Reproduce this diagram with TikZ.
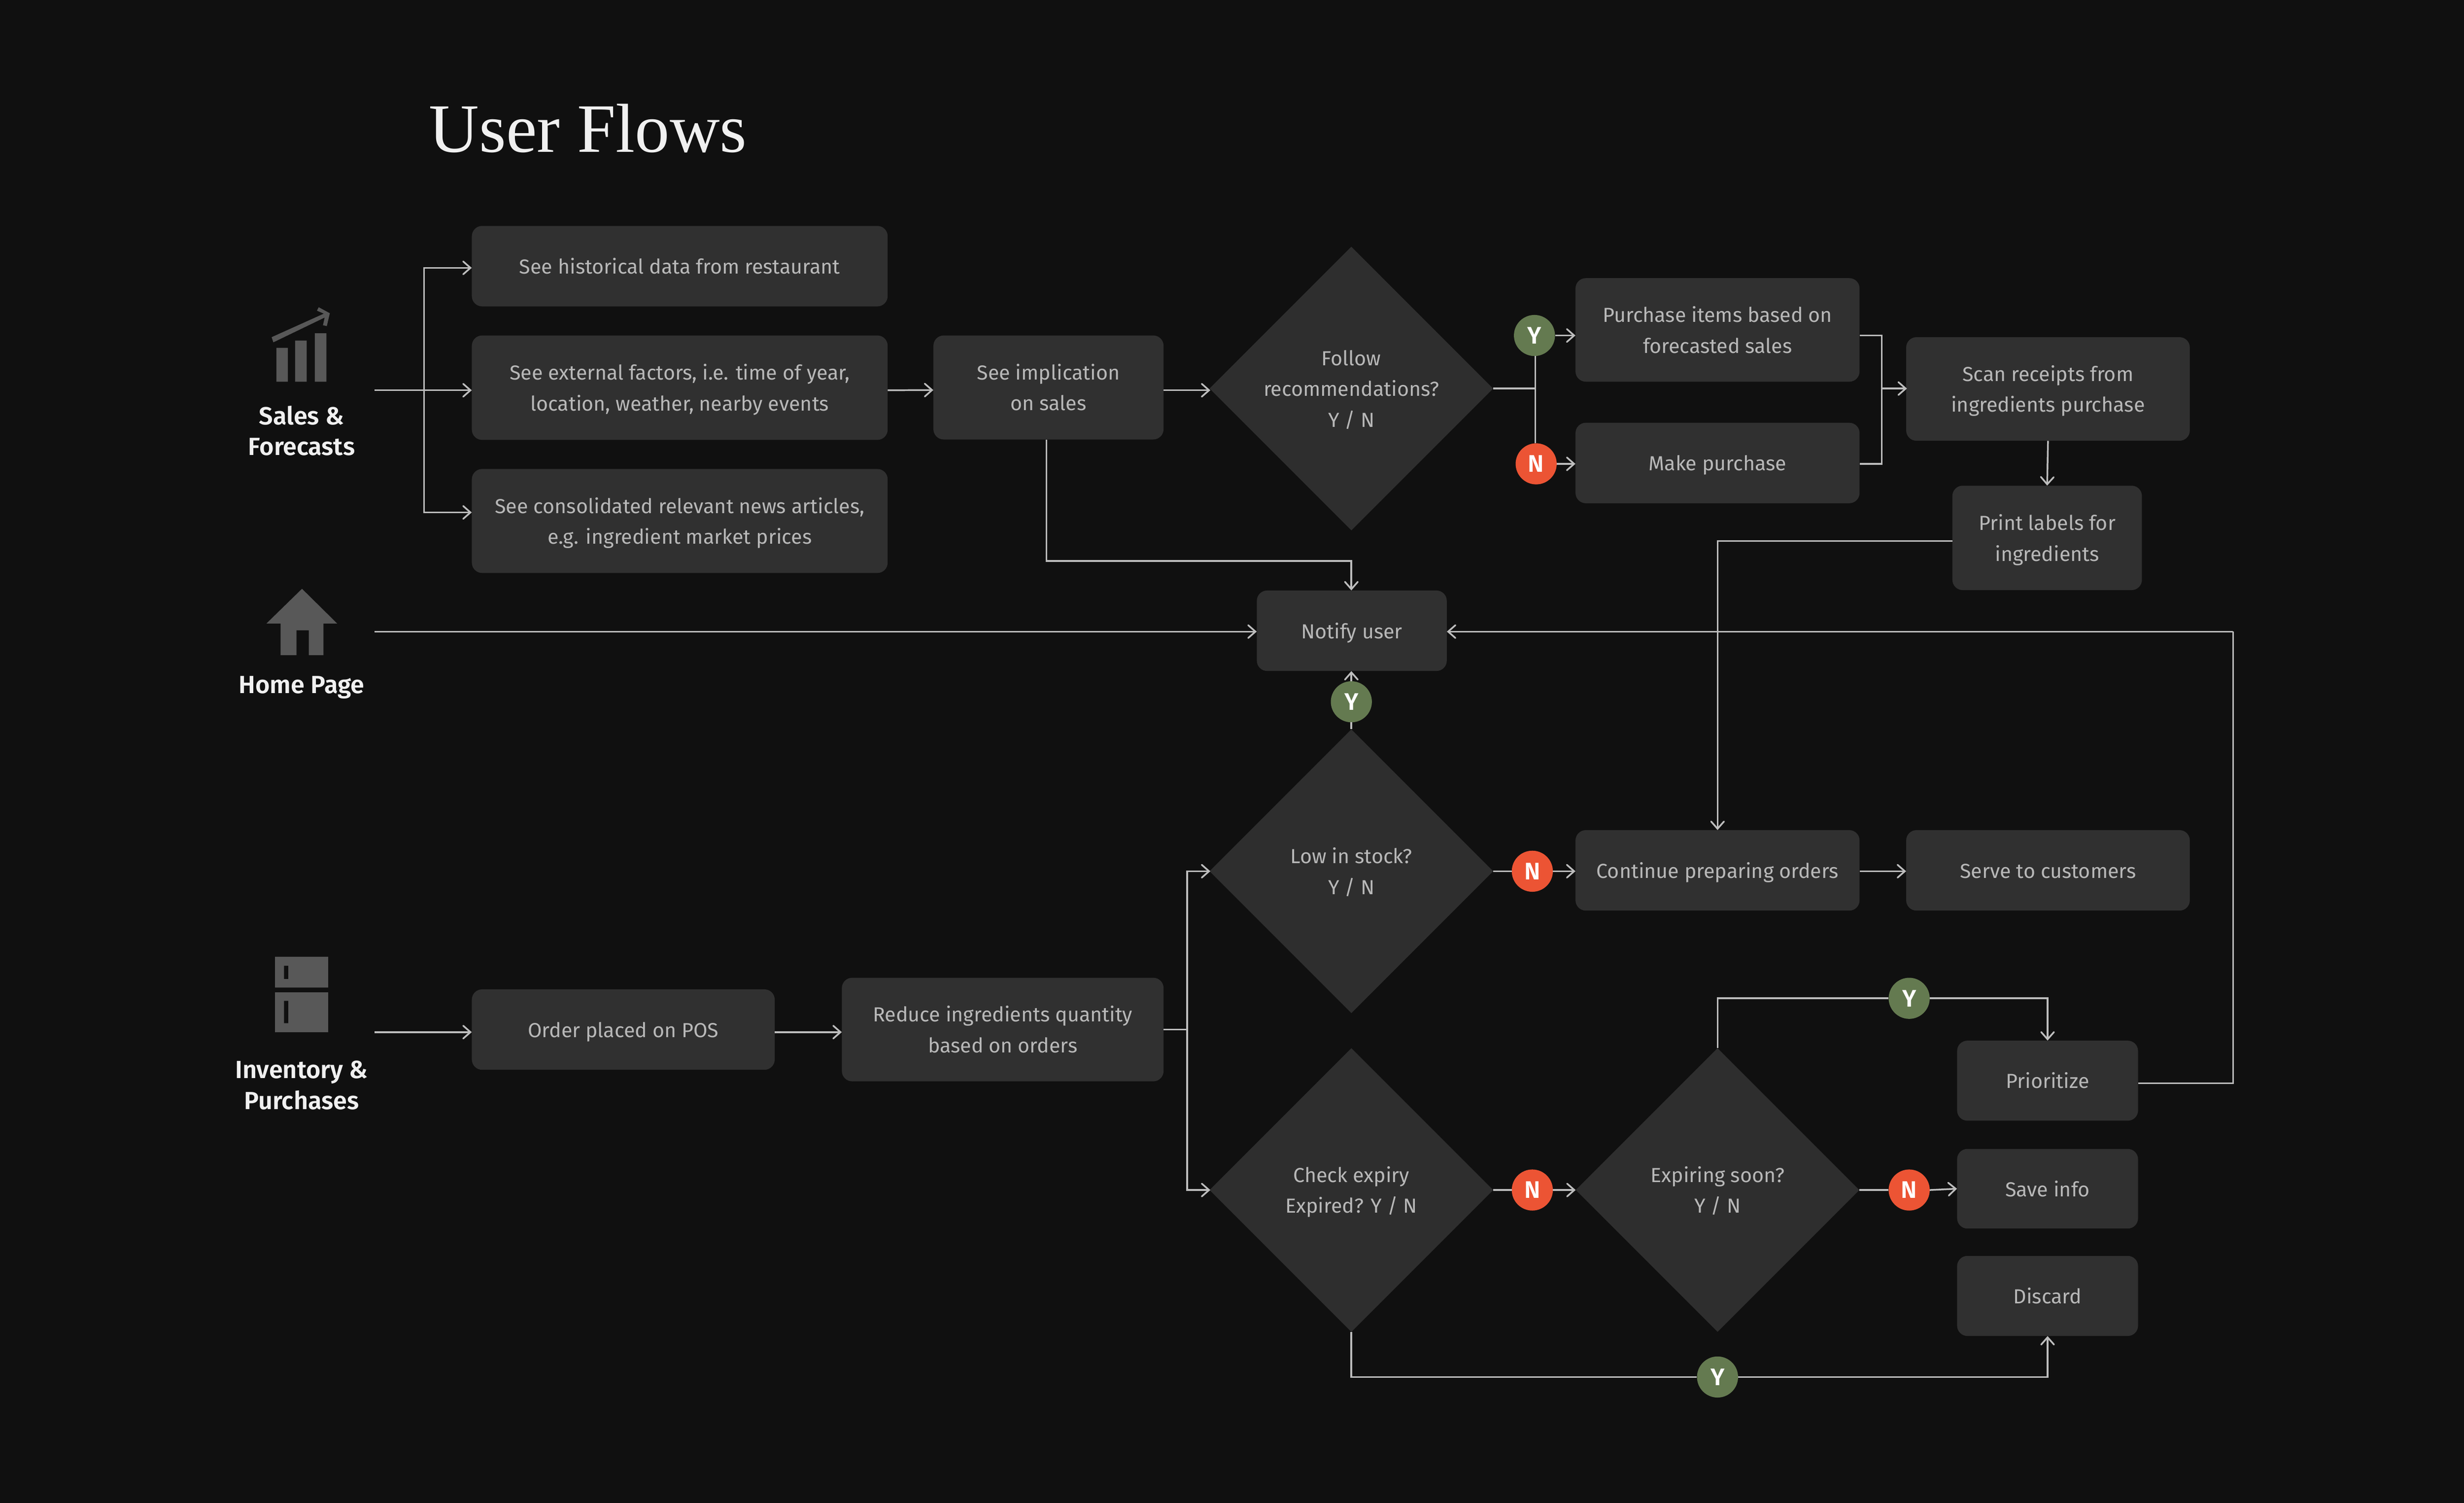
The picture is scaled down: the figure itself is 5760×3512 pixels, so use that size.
\documentclass[tikz,border=0pt]{standalone}
\usepackage{fontspec}
\setmainfont{Fira Sans}[BoldFont={Fira Sans SemiBold}]
\newfontfamily\titlefont{Liberation Serif}
\usetikzlibrary{shapes.geometric,arrows.meta,calc}
\definecolor{bgc}{HTML}{101010}
\definecolor{boxc}{HTML}{303030}
\definecolor{diac}{HTML}{2E2E2E}
\definecolor{linec}{HTML}{BDBDBD}
\definecolor{txtc}{HTML}{B8B8B8}
\definecolor{labc}{HTML}{F0F0F0}
\definecolor{iconc}{HTML}{585858}
\definecolor{yesc}{HTML}{647A50}
\definecolor{noc}{HTML}{EC5434}
\newcommand{\vstrut}{\vrule height 54pt depth 18pt width 0pt\relax}
\tikzset{
  procbox/.style={rectangle,rounded corners=24pt,fill=boxc,inner sep=0pt,text=txtc,align=center,font=\fontsize{47.5}{72}\selectfont},
  decis/.style={diamond,aspect=1,minimum width=663pt,minimum height=663pt,fill=diac,inner sep=0pt,text=txtc,align=center,font=\fontsize{47.5}{72}\selectfont},
  yes/.style={circle,minimum size=96pt,inner sep=0pt,fill=yesc,text=white,font=\fontsize{56}{56}\selectfont\bfseries},
  no/.style={circle,minimum size=96pt,inner sep=0pt,fill=noc,text=white,font=\fontsize{56}{56}\selectfont\bfseries},
  grouplabel/.style={text=labc,align=center,inner sep=0pt,font=\fontsize{58}{72}\selectfont\bfseries},
  conn/.style={draw=linec,line width=4pt},
  flow/.style={conn,-{Straight Barb[length=17pt,width=30pt,line cap=round,line width=4pt]}},
  icon/.style={fill=iconc,draw=none}
}
\begin{document}
\begin{tikzpicture}[x=1pt,y=-1pt]
\useasboundingbox (0,0) rectangle (5760,3512);
\fill[bgc] (0,0) rectangle (5760,3512);
% title
\node[anchor=base west,inner sep=0pt,text=labc,font=\fontsize{162}{162}\selectfont\titlefont] (title) at (1003,355) {User Flows};
% icons
\fill[icon] (646,813) rectangle (673,892) (690,796) rectangle (717,892) (736,779) rectangle (763,892);
\fill[icon] (635,788) -- (757,733) -- (741,726) -- (745,718) -- (771,732) -- (764,762) -- (755,760) -- (759,742) -- (639,800) -- cycle;
\fill[icon] (706,1376) -- (788,1457) -- (756,1457) -- (756,1531) -- (722,1531) -- (722,1473) -- (693,1473) -- (693,1531) -- (656,1531) -- (656,1457) -- (623,1457) -- cycle;
\fill[icon,even odd rule] (643,2236) rectangle (767,2308) (664,2257) rectangle (674,2288);
\fill[icon,even odd rule] (643,2319) rectangle (767,2412) (664,2339) rectangle (674,2391);
% group labels
\node[grouplabel] (lsales) at (705,1010) {\vstrut Sales \&\\Forecasts\vstrut};
\node[grouplabel] (lhome) at (705,1602) {\vstrut Home Page};
\node[grouplabel] (linv) at (705,2538) {\vstrut Inventory \&\\Purchases\vstrut};
% process boxes
\node[procbox,minimum width=972pt,minimum height=188pt] (hist) at (1589,622) {\vstrut See historical data from restaurant};
\node[procbox,minimum width=972pt,minimum height=244pt] (ext) at (1589,906) {\vstrut See external factors, i.e. time of year,\\location, weather, nearby events\vstrut};
\node[procbox,minimum width=972pt,minimum height=243pt] (news) at (1589,1217.5) {\vstrut See consolidated relevant news articles,\\e.g. ingredient market prices\vstrut};
\node[procbox,minimum width=538pt,minimum height=243pt] (impl) at (2451,905.5) {\vstrut See implication\\on sales\vstrut};
\node[procbox,minimum width=664pt,minimum height=242pt] (purch) at (4015,771) {\vstrut Purchase items based on\\forecasted sales\vstrut};
\node[procbox,minimum width=664pt,minimum height=188pt] (make) at (4015,1082) {\vstrut Make purchase};
\node[procbox,minimum width=663pt,minimum height=242pt] (scan) at (4787.5,909) {\vstrut Scan receipts from\\ingredients purchase\vstrut};
\node[procbox,minimum width=443pt,minimum height=244pt] (print) at (4785.5,1257) {\vstrut Print labels for\\ingredients\vstrut};
\node[procbox,minimum width=444pt,minimum height=188pt] (notify) at (3160,1474) {\vstrut Notify user};
\node[procbox,minimum width=664pt,minimum height=188pt] (cont) at (4015,2034) {\vstrut Continue preparing orders};
\node[procbox,minimum width=663pt,minimum height=188pt] (serve) at (4787.5,2034) {\vstrut Serve to customers};
\node[procbox,minimum width=423pt,minimum height=187pt] (prio) at (4786.5,2525.5) {\vstrut Prioritize};
\node[procbox,minimum width=423pt,minimum height=186pt] (save) at (4786.5,2778) {\vstrut Save info};
\node[procbox,minimum width=423pt,minimum height=187pt] (disc) at (4786.5,3028.5) {\vstrut Discard};
\node[procbox,minimum width=708pt,minimum height=188pt] (order) at (1457,2406) {\vstrut Order placed on POS};
\node[procbox,minimum width=752pt,minimum height=242pt] (reduce) at (2344,2406) {\vstrut Reduce ingredients quantity\\based on orders\vstrut};
% decisions
\node[decis] (d1) at (3159,908) {\vstrut Follow\\recommendations?\\Y / N\vstrut};
\node[decis] (d2) at (3159,2036) {\vstrut Low in stock?\\Y / N\vstrut};
\node[decis] (d3) at (3159,2781) {\vstrut Check expiry\\Expired? Y / N\vstrut};
\node[decis] (d4) at (4015,2781) {\vstrut Expiring soon?\\Y / N\vstrut};
% Y / N
\node[yes] (y1) at (3587,784) {Y};
\node[no] (n1) at (3591,1084) {N};
\node[yes] (y2) at (3159,1640) {Y};
\node[no] (n2) at (3582,2036) {N};
\node[no] (n3) at (3582,2781) {N};
\node[no] (n4) at (4463,2781) {N};
\node[yes] (y3) at (4463,2333) {Y};
\node[yes] (y4) at (4015,3218) {Y};
% free ends and junctions
\coordinate (ssales) at (875,912);
\coordinate (shome) at (875,1476);
\coordinate (sinv) at (875,2412);
\coordinate (jsales) at (991,912);
\coordinate (jd1) at (3589,908);
\coordinate (jbr) at (4399,908);
\coordinate (jred) at (2775,2406);
\coordinate (jwrap) at (5220,1476);
\coordinate (jnot) at (3159,1311);
% connectors
\draw[conn] (ssales) -- (jsales);
\draw[flow] (jsales) |- ([yshift=-4pt]hist.west);
\draw[flow] (jsales) -- ([yshift=-6pt]ext.west);
\draw[flow] (jsales) |- ([yshift=20pt]news.west);
\draw[flow] ([yshift=-6pt]ext.east) -- ([yshift=-6pt]impl.west);
\draw[flow] ([yshift=-6.5pt]impl.east) -- ([yshift=-4pt,xshift=2pt]d1.west);
\draw[flow] ([xshift=-5pt]impl.south) |- (jnot) -- ([xshift=-1pt]notify.north);
\draw[conn] (d1.east) -- (jd1);
\draw[conn] (y1.south -| jd1) -- (n1.north -| jd1);
\draw[flow] (y1.east) -- ([yshift=-13pt]purch.west);
\draw[flow] (n1.east) -- ([yshift=-2pt]make.west);
\draw[conn] ([yshift=-13pt]purch.east) -| (jbr) |- ([yshift=-2pt]make.east);
\draw[flow] (jbr) -- ([xshift=2pt]scan.west |- jbr);
\draw[flow] (scan.south) -- (print.north);
\draw[flow] ([yshift=-7pt]print.west) -| (cont.north);
\draw[flow] (shome) -- ([yshift=-2pt]notify.west);
\draw[conn] ([yshift=-6pt]prio.east) -| (jwrap);
\draw[flow] (jwrap) -- ([yshift=-2pt]notify.east);
\draw[flow] (y2.north) -- (y2.north |- notify.south);
\draw[conn] (d2.north) -- (y2.south);
\draw[conn] (d2.east) -- (n2.west);
\draw[flow] (n2.east) -- (cont.west |- n2.east);
\draw[flow] (cont.east |- n2.east) -- (serve.west |- n2.east);
\draw[flow] (sinv) -- ([yshift=-6pt]order.west);
\draw[flow] ([yshift=-6pt]order.east) -- ([yshift=-6pt]reduce.west);
\draw[conn] (reduce.east) -- (jred);
\draw[flow] (jred) |- ([xshift=2pt]d2.west);
\draw[flow] (jred) |- ([xshift=2pt]d3.west);
\draw[conn] (d3.east) -- (n3.west);
\draw[flow] (n3.east) -- (d4.west);
\draw[conn] (d4.east) -- (n4.west);
\draw[flow] (n4.east) -- (save.west);
\draw[conn] (d4.north) |- (y3.west);
\draw[flow] (y3.east) -| (prio.north);
\draw[conn] (d3.south) |- (y4.west);
\draw[flow] (y4.east) -| (disc.south);
\end{tikzpicture}
\end{document}
